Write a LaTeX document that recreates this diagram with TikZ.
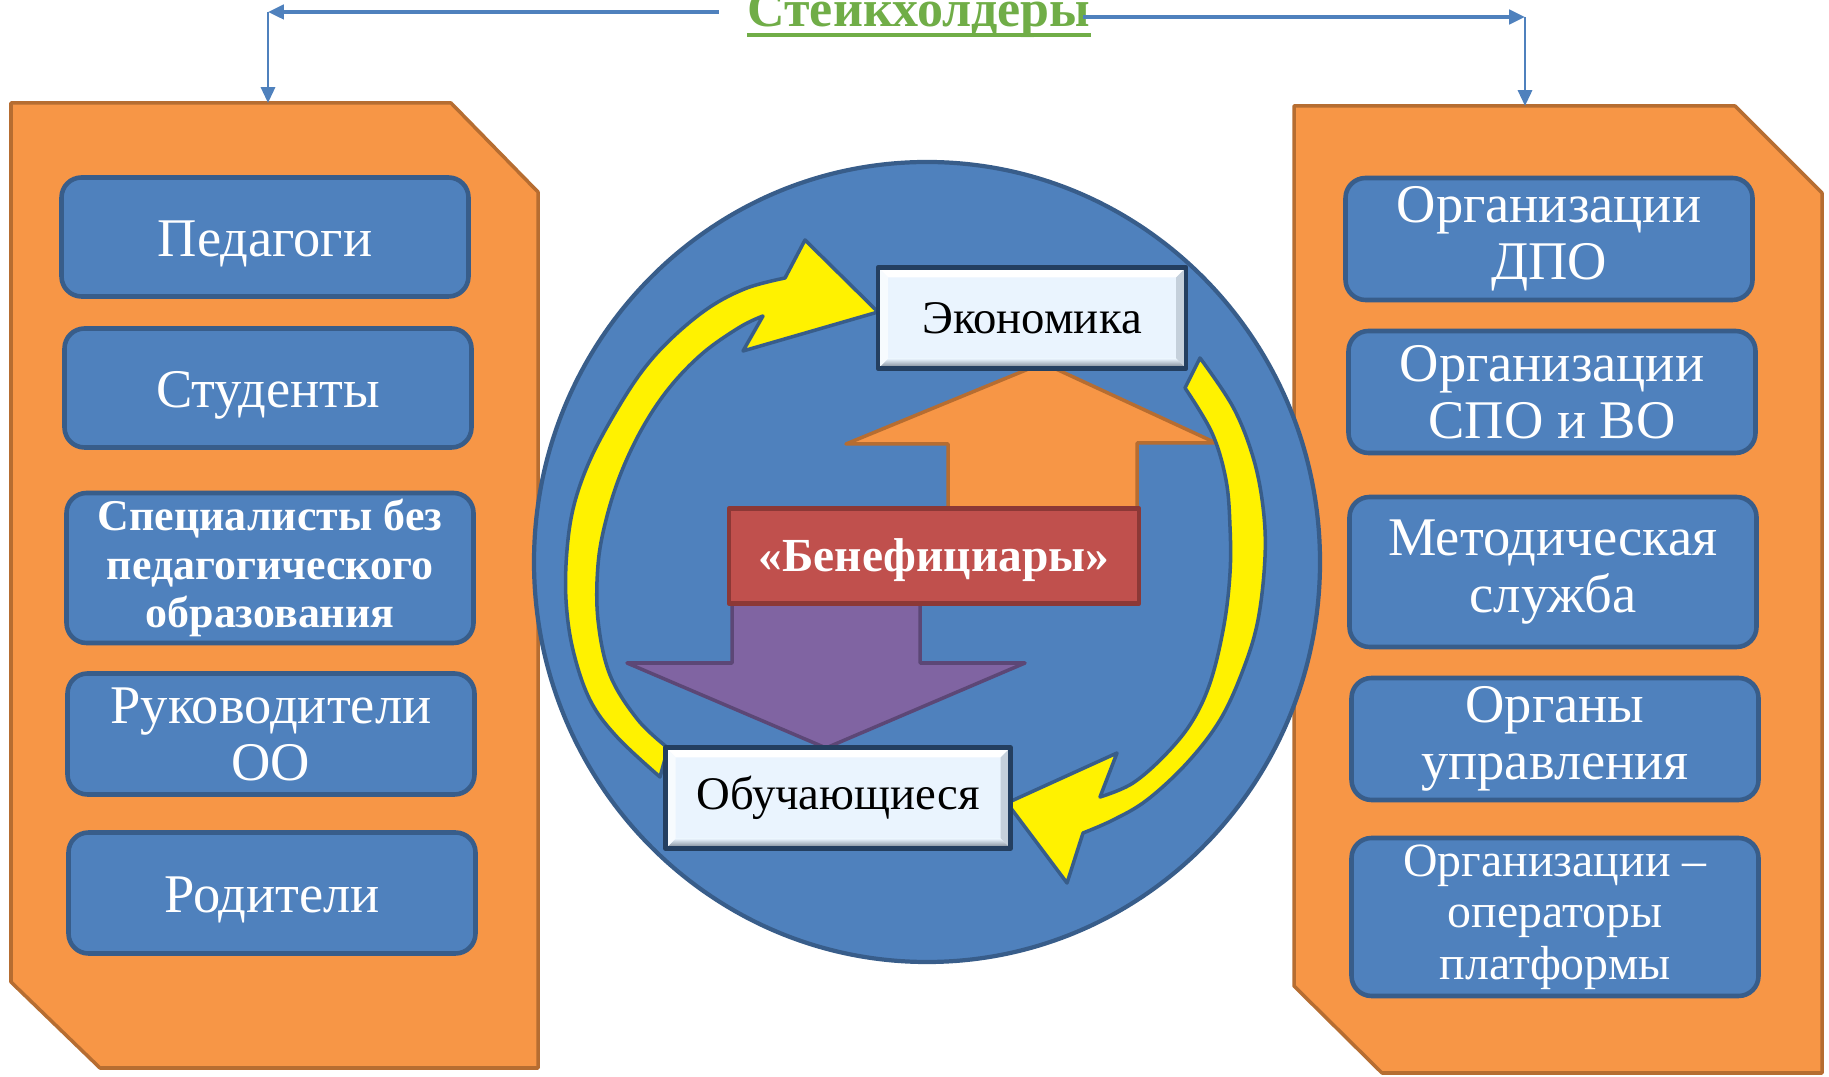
\documentclass[tikz,border=0pt]{standalone}
\usepackage{fontspec}
\setmainfont{Liberation Serif}
\usetikzlibrary{arrows.meta,calc}

\begin{document}
\begin{tikzpicture}[x=0.1mm,y=-0.1mm,line join=round]
  % Local definitions
  \def\boxfont{\fontsize{15.5pt}{16.2pt}\selectfont}
  \def\smallboxfont{\fontsize{13.6pt}{14.6pt}\selectfont}
  \def\boldboxfont{\bfseries\fontsize{12.5pt}{13.7pt}\selectfont}
  \def\midfont{\fontsize{13.3pt}{14pt}\selectfont}

  % Colors
  \definecolor{panelorange}{HTML}{F79646}
  \definecolor{paneledge}{HTML}{B66D31}
  \definecolor{boxblue}{HTML}{4F81BD}
  \definecolor{boxedge}{HTML}{385D8A}
  \definecolor{titlegreen}{HTML}{70AD47}
  \definecolor{benefred}{HTML}{C0504D}
  \definecolor{benefedge}{HTML}{8C3836}
  \definecolor{downviolet}{HTML}{8064A2}
  \definecolor{downedge}{HTML}{5C4776}
  \definecolor{bevface}{HTML}{EAF4FE}
  \definecolor{bevedge}{HTML}{243F60}
  \definecolor{bevshadow}{HTML}{6F7B88}

  % Styles
  \tikzstyle{panel}=[fill=panelorange,draw=paneledge,line width=1pt]
  \tikzstyle{stakebox}=[draw=boxedge,fill=boxblue,line width=1.3pt,rounded corners=2mm,
    text=white,align=center,inner sep=0pt,minimum width=40.7mm,minimum height=11.9mm,font=\boxfont,
    execute at begin node={\rule{0pt}{0.92em}}]
  \tikzstyle{bevelbox}=[draw=bevedge,fill=bevface,line width=1.3pt,inner sep=0pt,font=\midfont,
    path picture={
      \coordinate (bnw) at (path picture bounding box.north west);
      \coordinate (bse) at (path picture bounding box.south east);
      \fill[white] (bnw) -- (bnw -| bse) -- ++(-1mm,-1mm) -- ($(bnw)+(1mm,-1mm)$) -- cycle;
      \fill[bevface!70!bevshadow] (bse) -- (bse |- bnw) -- ++(-1mm,-1mm) -- ($(bse)+(-1mm,1mm)$) -- cycle;
      \shade[top color=bevface,bottom color=bevshadow] (bnw |- bse) -- (bse) -- ++(-1mm,1mm)
        -- ($(bnw |- bse)+(1mm,1mm)$) -- cycle;
      \fill[white!60!bevface] (bnw) -- (bnw |- bse) -- ++(1mm,1mm) -- ($(bnw)+(1mm,-1mm)$) -- cycle;
    }]
  \tikzstyle{feed}=[draw=boxblue,line width=1.3pt,-{Triangle[length=4.5pt,width=4pt]}]
  \tikzstyle{drop}=[draw=boxblue,line width=0.8pt,-{Triangle[length=4.5pt,width=4pt]}]
  \tikzstyle{turn arrow}=[fill=yellow,draw=boxedge,line width=1pt]

  % The graphic
  \useasboundingbox (0,0) rectangle (1829,1077);

  % side panels
  \draw[panel] (11,103) -- (451,103) -- (538,192) -- (538,1068) -- (100,1068) -- (11,982) -- cycle;
  \draw[panel] (1294,106) -- (1735,106) -- (1822,193) -- (1822,1073) -- (1382,1073) -- (1294,986) -- cycle;
  \coordinate (ltop) at (268,103);
  \coordinate (rtop) at (1525,106);

  % title with its two connectors
  \node[anchor=base,inner sep=0pt,text=titlegreen,font=\bfseries\fontsize{14.8pt}{16pt}\selectfont]
    (stake) at (919,27) {Стейкхолдеры};
  \draw[titlegreen,line width=0.9pt] ($(stake.base west)+(0,8)$) -- ($(stake.base east)+(0,8)$);

  \coordinate (lstart) at ($(stake.base west)+(-28,-15)$);
  \coordinate (rstart) at ($(stake.base east)+(-8,-10)$);
  \coordinate (lbend) at (lstart -| ltop);
  \coordinate (rbend) at (rstart -| rtop);
  \draw[feed] (lstart) -- (lbend);
  \draw[drop] (lbend) -- (ltop);
  \draw[feed] (rstart) -- (rbend);
  \draw[drop] (rbend) -- (rtop);

  % left stakeholders
  \node[stakebox] (ped)  at (265,237) {Педагоги};
  \node[stakebox] (stud) at (268,388) {Студенты};
  \node[stakebox,minimum height=15mm,font=\boldboxfont] (spec) at (270,568)
    {Специалисты без\\педагогического\\образования};
  \node[stakebox,minimum height=12.1mm] (ruk) at (271,734) {Руководители\\ОО};
  \node[stakebox,minimum height=12.1mm] (rod) at (272,893) {Родители};

  % right stakeholders
  \node[stakebox,minimum height=12.2mm] (dpo)   at (1549,239) {Организации\\ДПО};
  \node[stakebox,minimum height=12.2mm] (spo)   at (1552,392) {Организации\\СПО и ВО};
  \node[stakebox,minimum height=15mm]   (metod) at (1553,572) {Методическая\\служба};
  \node[stakebox,minimum height=12.2mm] (organ) at (1555,739) {Органы\\управления};
  \node[stakebox,minimum height=15.8mm,font=\smallboxfont] (oper) at (1555,917)
    {Организации –\\операторы\\платформы};

  % central circle
  \draw[fill=boxblue,draw=boxedge,line width=1.2pt] (927,562) ellipse [x radius=393,y radius=400];

  % block arrows
  \draw[fill=panelorange,draw=paneledge,line width=1pt]
    (948,508) -- (948,444) -- (846,444) -- (1043,363) -- (1216,443) -- (1137,443) -- (1137,508) -- cycle;
  \draw[fill=downviolet,draw=downedge,line width=1pt]
    (732,600) -- (732,663) -- (627,663) -- (826,748) -- (1025,663) -- (920,663) -- (920,600) -- cycle;

  \node[draw=benefedge,fill=benefred,line width=1.3pt,minimum width=41mm,minimum height=9.5mm,
    inner sep=0pt,text=white,font=\bfseries\fontsize{13.5pt}{14pt}\selectfont,
    execute at begin node={\rule{0pt}{0.86em}}] (benef) at (934,556) {«Бенефициары»};

  % curved yellow arrows
  \draw[turn arrow] plot[smooth,tension=0.6] coordinates {(660,777) (617,737) (590,700) (573,650)
      (566,600) (567,550) (574,505) (590,460) (615,413) (643,370) (673,337) (710,307) (747,288) (785,278)}
    -- (805,240) -- (878,312) -- (743,351) -- (763,316)
    -- plot[smooth,tension=0.6] coordinates {(763,316) (740,327) (703,353) (670,387) (643,427)
      (621,473) (606,520) (598,565) (598,620) (610,675) (638,720) (668,748)} -- cycle;
  \draw[turn arrow] plot[smooth,tension=0.6] coordinates {(1200,358) (1233,407) (1253,457) (1263,507)
      (1265,557) (1258,620) (1243,670) (1220,720) (1187,763) (1147,800) (1113,820) (1083,833)}
    -- (1067,883) -- (1007,803) -- (1117,753) -- (1100,797)
    -- plot[smooth,tension=0.6] coordinates {(1100,797) (1133,783) (1167,753) (1193,720) (1211,680)
      (1224,625) (1230,573) (1230,527) (1226,480) (1212,433) (1185,388)} -- cycle;

  % cycle members
  \node[bevelbox,minimum width=30.8mm,minimum height=10.1mm] (econ)  at (1032,318) {Экономика};
  \node[bevelbox,minimum width=34.5mm,minimum height=10.1mm] (learn) at (838,798) {Обучающиеся};
\end{tikzpicture}
\end{document}
